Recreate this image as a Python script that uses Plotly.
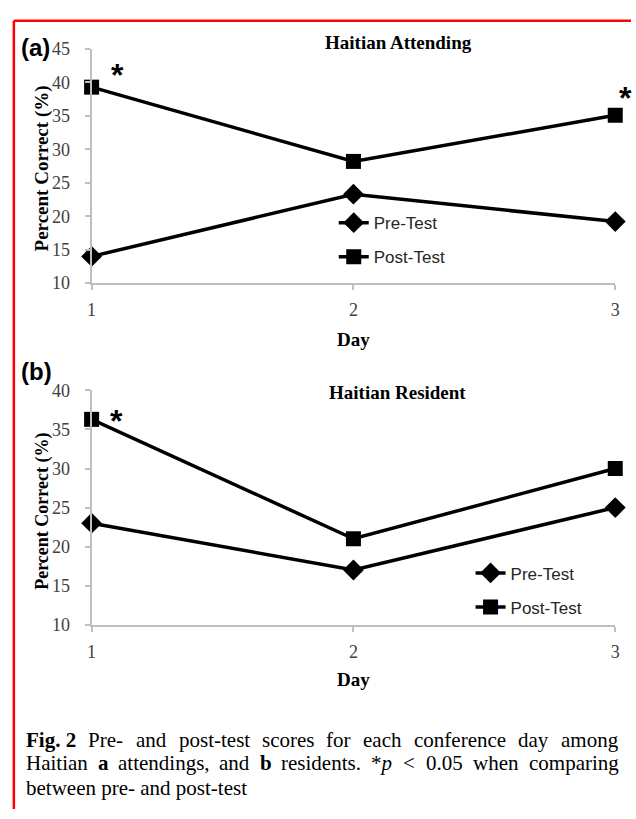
import plotly.graph_objects as go

# ---------------- data ----------------
days = [1, 2, 3]
day_labels = ["1", "2", "3"]

attending_pre = [14.0, 23.3, 19.2]
attending_post = [39.3, 28.2, 35.1]

resident_pre = [23.0, 17.0, 25.0]
resident_post = [36.3, 21.0, 30.0]

series_names = ["Pre-Test", "Post-Test"]
panel_titles = ["Haitian Attending", "Haitian Resident"]
panel_letters = ["(a)", "(b)"]
y_title = "Percent Correct (%)"
x_title = "Day"

# significant points (index of day) for each panel
sig_attending = [0, 2]
sig_resident = [0]

caption_line1 = ["<b>Fig. 2</b>", "Pre-", "and", "post-test", "scores", "for", "each",
                 "conference", "day", "among"]
caption_line2 = ["Haitian", "<b>a</b>", "attendings,", "and", "<b>b</b>", "residents.",
                 "*<i>p</i>", "&lt;", "0.05", "when", "comparing"]
caption_line3 = "between pre- and post-test"

W, H = 636, 819


def px(x):
    return x / W


def py(y):
    return 1 - y / H


SERIF = "Liberation Serif, Times New Roman, serif"
SANS = "Liberation Sans, Arial, sans-serif"
AXIS_GRAY = "#bfbfbf"
TICK_TXT = "#404040"

# approximate Times widths (per em) used only to justify caption words
TW = dict(a=.444, b=.5, c=.444, d=.5, e=.444, f=.333, g=.5, h=.5, i=.278, j=.278, k=.5, l=.278,
          m=.778, n=.5, o=.5, p=.5, q=.5, r=.333, s=.389, t=.278, u=.5, v=.5, w=.722, x=.5,
          y=.5, z=.444, H=.722, F=.611, P=.556, T=.611)
TW.update({" ": .25, "-": .333, ".": .25, ",": .25, "*": .5, "<": .564, "0": .5, "2": .5, "5": .5})


def word_width(word, size):
    plain = word.replace("<b>", "").replace("</b>", "").replace("<i>", "").replace("</i>", "")
    plain = plain.replace("&lt;", "<")
    return sum(TW.get(ch, .5) for ch in plain) * size


fig = go.Figure()

traces = [
    (attending_pre, series_names[0], "diamond", "x", "y", "legend", "a_pre"),
    (attending_post, series_names[1], "square", "x", "y", "legend", "a_post"),
    (resident_pre, series_names[0], "diamond", "x2", "y2", "legend2", "b_pre"),
    (resident_post, series_names[1], "square", "x2", "y2", "legend2", "b_post"),
]
for vals, name, sym, xa, ya, lg, grp in traces:
    fig.add_trace(go.Scatter(x=days, y=vals, name=name, mode="lines+markers",
                             line=dict(color="black", width=3.5),
                             marker=dict(symbol=sym, size=16 if sym == "diamond" else 15,
                                         color="black"),
                             xaxis=xa, yaxis=ya, legend=lg, legendgroup=grp, cliponaxis=False,
                             hoverinfo="skip"))

axis_common = dict(showline=True, linecolor=AXIS_GRAY, linewidth=2, ticks="outside",
                   ticklen=5, tickwidth=2, tickcolor=AXIS_GRAY, showgrid=False, zeroline=False,
                   tickfont=dict(family=SERIF, size=18, color=TICK_TXT))

leg_common = dict(xanchor="left", yanchor="top", bgcolor="rgba(0,0,0,0)",
                  font=dict(family=SANS, size=17, color="#262626"), tracegroupgap=9,
                  traceorder="grouped")

fig.update_layout(
    width=W, height=H, margin=dict(l=0, r=0, t=0, b=0),
    paper_bgcolor="white", plot_bgcolor="white",
    xaxis=dict(domain=[px(88), px(620)], range=[1, 3], tickvals=days, ticktext=day_labels,
               anchor="y", ticklabelstandoff=4, **axis_common),
    yaxis=dict(domain=[py(280), py(40)], range=[10, 45], dtick=5, anchor="x",
               ticklabelstandoff=11, **axis_common),
    xaxis2=dict(domain=[px(88), px(620)], range=[1, 3], tickvals=days, ticktext=day_labels,
                anchor="y2", ticklabelstandoff=5, **axis_common),
    yaxis2=dict(domain=[py(630), py(390)], range=[10, 40], dtick=5, anchor="x2",
                ticklabelstandoff=11, **axis_common),
    legend=dict(x=px(334), y=py(200), **leg_common),
    legend2=dict(x=px(473), y=py(559), **leg_common),
    showlegend=True,
)

ann = []


def txt(x, y, text, font, xa="center", ya="middle", **kw):
    d = dict(x=px(x), y=py(y), xref="paper", yref="paper", text=text, showarrow=False,
             xanchor=xa, yanchor=ya, font=font)
    d.update(kw)
    ann.append(d)


# panel titles
txt(400, 33, "<b>%s</b>" % panel_titles[0], dict(family=SERIF, size=19, color="black"))
txt(399, 392, "<b>%s</b>" % panel_titles[1], dict(family=SERIF, size=19, color="black"))
# panel letters
txt(14, 38, "<b>%s</b>" % panel_letters[0], dict(family=SANS, size=24, color="black"), xa="left")
txt(14, 371, "<b>%s</b>" % panel_letters[1], dict(family=SANS, size=24, color="black"), xa="left")
# axis titles
txt(38, 162, "<b>%s</b>" % y_title, dict(family=SERIF, size=19, color="black"), textangle=-90)
txt(38, 514, "<b>%s</b>" % y_title, dict(family=SERIF, size=18, color="black"), textangle=-90)
txt(354, 338, "<b>%s</b>" % x_title, dict(family=SERIF, size=19, color="black"))
txt(354, 686, "<b>%s</b>" % x_title, dict(family=SERIF, size=19, color="black"))

# significance asterisks anchored to their data points
star_font = dict(family=SANS, size=32, color="black")
star_shift_a = {0: (26, 12), 2: (10, 17)}
for i in sig_attending:
    xs, ys = star_shift_a[i]
    ann.append(dict(x=days[i], y=attending_post[i], xref="x", yref="y", text="<b>*</b>",
                    showarrow=False, xanchor="center", yanchor="middle",
                    xshift=xs, yshift=ys, font=star_font))
for i in sig_resident:
    ann.append(dict(x=days[i], y=resident_post[i], xref="x2", yref="y2", text="<b>*</b>",
                    showarrow=False, xanchor="center", yanchor="middle",
                    xshift=25, yshift=-2, font=star_font))

# caption: justified lines, word by word
CAP = 21
cap_font = dict(family=SERIF, size=CAP, color="black")
x_left, x_right = 19, 620
for words, yc in ((caption_line1, 748), (caption_line2, 772)):
    widths = [word_width(w, CAP) for w in words]
    gap = (x_right - x_left - sum(widths)) / (len(words) - 1)
    xpos = x_left
    for w, wd in zip(words, widths):
        txt(xpos, yc, w, cap_font, xa="left")
        xpos += wd + gap
txt(x_left, 797, caption_line3, cap_font, xa="left")

fig.update_layout(annotations=ann)

# red frame (top and left edges)
fig.add_shape(type="line", xref="paper", yref="paper", x0=px(9), x1=1, y0=py(11), y1=py(11),
              line=dict(color="red", width=2.5))
fig.add_shape(type="line", xref="paper", yref="paper", x0=px(9), x1=px(9), y0=py(11), y1=0,
              line=dict(color="red", width=2.5))

fig.write_html("out.html", config={"displayModeBar": False},
               post_script="document.body.style.margin='0px';")
